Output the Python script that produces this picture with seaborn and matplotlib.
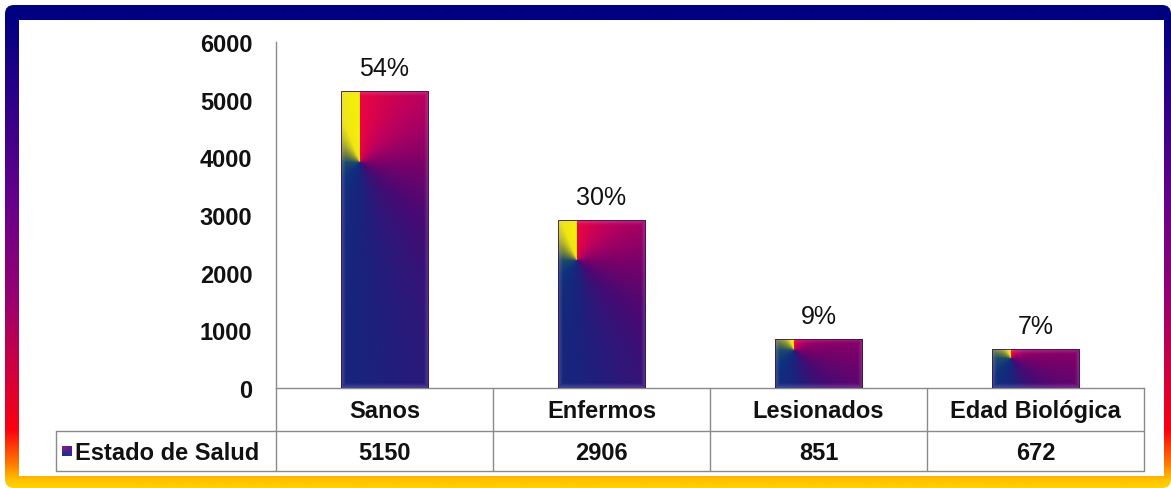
import numpy as np
import pandas as pd
import matplotlib
matplotlib.use("Agg")
import matplotlib.pyplot as plt
import matplotlib.transforms as mtransforms
from matplotlib.patches import FancyBboxPatch, Rectangle
import seaborn as sns

# ---- data ----
categories = ["Sanos", "Enfermos", "Lesionados", "Edad Biológica"]
values = [5150, 2906, 851, 672]
pct_labels = ["54%", "30%", "9%", "7%"]
series_name = "Estado de Salud"
yticks = [0, 1000, 2000, 3000, 4000, 5000, 6000]

sns.set_theme(style="white")
plt.rcParams["font.family"] = ["Liberation Sans", "DejaVu Sans"]

W, H = 1171, 489
fig = plt.figure(figsize=(W / 100, H / 100), dpi=100)
fig.patch.set_facecolor("white")

# ---- background frame (pixel coordinates) ----
bg = fig.add_axes([0, 0, 1, 1], zorder=0)
bg.set_xlim(0, W)
bg.set_ylim(H, 0)
bg.axis("off")

stops_t = [0.0, 0.03, 0.12, 0.40, 0.60, 0.75, 0.88, 0.95, 0.985, 1.0]
stops_c = np.array([
    (0, 0, 128), (0, 0, 128), (25, 0, 135), (100, 0, 140), (150, 0, 115),
    (205, 0, 65), (250, 0, 15), (255, 120, 0), (255, 195, 0), (255, 210, 0)
]) / 255.0
t = np.linspace(0, 1, 483)
grad = np.stack([np.interp(t, stops_t, stops_c[:, k]) for k in range(3)], axis=-1)
grad = grad[:, None, :]
frame = FancyBboxPatch((5, 6), 1166, 483, boxstyle="round,pad=0,rounding_size=9",
                       transform=bg.transData, facecolor="none", edgecolor="none")
bg.add_patch(frame)
im = bg.imshow(grad, extent=(5, 1171, 489, 6), aspect="auto", interpolation="bilinear", zorder=0)
im.set_clip_path(frame)
bg.add_patch(Rectangle((19, 21), 1145, 456, facecolor="white", edgecolor="none", zorder=1))
bg.set_xlim(0, W)
bg.set_ylim(H, 0)

# ---- main axes ----
ax_left, ax_right, ax_top, ax_bot = 276, 1144, 43, 389
ax = fig.add_axes([ax_left / W, (H - ax_bot) / H, (ax_right - ax_left) / W, (ax_bot - ax_top) / H],
                  zorder=2)
ax.set_facecolor("none")

df = pd.DataFrame({"cat": categories, "val": values})
sns.barplot(data=df, x="cat", y="val", ax=ax, width=0.405, color="#3a1a80", saturation=1)

ax.set_xlim(-0.5, len(categories) - 0.5)
ax.set_ylim(0, 6000)
ax.set_yticks(yticks)
ax.set_yticklabels([str(v) for v in yticks], fontsize=17, fontweight="bold", color="#111111")
ax.tick_params(axis="y", length=0, pad=17)
ax.set_xticks([])
ax.set_xlabel("")
ax.set_ylabel("")
for s in ["top", "right"]:
    ax.spines[s].set_visible(False)
for s in ["left", "bottom"]:
    ax.spines[s].set_color("#8a8a8a")
    ax.spines[s].set_linewidth(1.0)

# conic gradient colours (angle clockwise from up, around a point near top-left)
ang = [0, 45, 90, 135, 180, 225, 270, 310, 338, 360]
cols = np.array([
    (235, 5, 65), (185, 0, 95), (125, 0, 105), (70, 10, 115), (25, 35, 125),
    (15, 50, 125), (30, 75, 105), (140, 150, 50), (240, 230, 20), (245, 240, 10)
]) / 255.0

fig.canvas.draw()
for patch in list(ax.patches):
    x0, y0 = patch.get_x(), patch.get_y()
    w, h = patch.get_width(), patch.get_height()
    bb = patch.get_window_extent()
    nx, ny = max(int(round(bb.width)), 2), max(int(round(bb.height)), 2)
    yy, xx = np.mgrid[0:ny, 0:nx] + 0.5
    px, py = 0.22 * nx, 0.24 * ny
    theta = np.degrees(np.arctan2(xx - px, -(yy - py))) % 360
    img = np.stack([np.interp(theta, ang, cols[:, k]) for k in range(3)], axis=-1)
    # bevel shading
    ex = np.minimum(xx, nx - xx)
    ey = np.minimum(yy, ny - yy)
    edge = np.clip(1 - np.minimum(ex, ey) / 5.0, 0, 1)
    img = img * (1 - 0.25 * edge[..., None]) + 0.25 * edge[..., None] * np.array([0.85, 0.75, 0.9])
    patch.set_facecolor("none")
    patch.set_edgecolor("#3a1050")
    patch.set_linewidth(0.6)
    patch.set_zorder(4)
    bim = ax.imshow(img, extent=(x0, x0 + w, y0, y0 + h), aspect="auto", origin="upper",
                    interpolation="bilinear", zorder=3)
    bim.set_clip_path(patch)

ax.set_xlim(-0.5, len(categories) - 0.5)
ax.set_ylim(0, 6000)
ax.set_aspect("auto")

# percentage labels
for i, (v, lab) in enumerate(zip(values, pct_labels)):
    ax.annotate(lab, (i, v), xytext=(0, 8), textcoords="offset points", ha="center", va="bottom",
                fontsize=18, color="#111111")

# ---- data table below ----
blend = mtransforms.blended_transform_factory(ax.transData, bg.transData)
row1_bot, row2_bot = 432, 472
line_kw = dict(color="#8a8a8a", lw=1.0, clip_on=False, zorder=5)
bounds = np.arange(len(categories) + 1) - 0.5
for b in bounds:
    line = plt.Line2D([b, b], [ax_bot, row2_bot], transform=blend, **line_kw)
    fig.add_artist(line)
bg.plot([56, ax_right], [row1_bot, row1_bot], **line_kw)
bg.plot([56, ax_right], [row2_bot, row2_bot], **line_kw)
bg.plot([56, 56], [row1_bot, row2_bot], **line_kw)

for i, (c, v) in enumerate(zip(categories, values)):
    ax.text(i, (ax_bot + row1_bot) / 2 + 1, c, transform=blend, ha="center", va="center",
            fontsize=17, fontweight="bold", color="#111111")
    ax.text(i, (row1_bot + row2_bot) / 2 + 1, str(v), transform=blend, ha="center", va="center",
            fontsize=17, fontweight="bold", color="#111111")

# legend key + series name
key = np.array([[[0.55, 0.1, 0.45], [0.35, 0.1, 0.6]], [[0.1, 0.2, 0.55], [0.2, 0.15, 0.6]]])
bg.imshow(key, extent=(62, 72, 457, 447), aspect="auto", interpolation="bilinear", zorder=5)
bg.text(75, (row1_bot + row2_bot) / 2 + 1, series_name, ha="left", va="center",
        fontsize=17, fontweight="bold", color="#111111")
bg.set_xlim(0, W)
bg.set_ylim(H, 0)

fig.savefig("out.png", dpi=100)
